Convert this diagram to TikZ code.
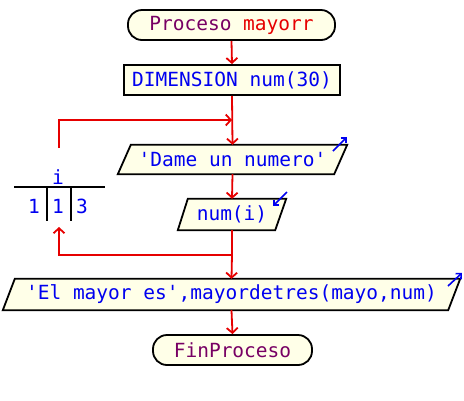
\documentclass[tikz,border=0pt]{standalone}
\usepackage{fontspec}
\setmonofont{DejaVu Sans Mono}
\usetikzlibrary{arrows.meta}
\definecolor{cream}{RGB}{255,255,232}
\definecolor{fblue}{RGB}{0,0,240}
\definecolor{fpurple}{RGB}{120,0,100}
\definecolor{fred}{RGB}{230,0,0}
\pgfdeclarelayer{bg}
\pgfsetlayers{bg,main}
\begin{document}
\begin{tikzpicture}[x=1pt,y=-1pt,
 txt/.style={font=\ttfamily\fontsize{19.5}{20}\selectfont, inner sep=0pt, anchor=center, text=fblue},
 term/.style={txt, draw=black, fill=cream, line width=1.8pt, rounded corners=14pt},
 proc/.style={txt, draw=black, fill=cream, line width=1.8pt},
 io/.style={draw=black, fill=cream, line width=1.8pt},
 flow/.style={draw=fred, line width=1.8pt},
 flowa/.style={flow, -{Straight Barb[length=5pt,width=11pt]}},
 inarr/.style={draw=fblue, line width=1.6pt, -{Straight Barb[length=4pt,width=8pt]}},
 tally/.style={draw=black, line width=1.8pt}
]
\useasboundingbox (0,0) rectangle (464,400);

\node[term, minimum width=207pt, minimum height=30pt] (start) at (231.5,25)
  {{\color{fpurple}Proceso} {\color{fred}mayorr}};
\node[proc, minimum width=216pt, minimum height=30pt] (dim) at (232,80) {DIMENSION num(30)};
\node[txt, minimum width=229pt, minimum height=29pt] (dame) at (232.5,159.5)
  {\textquotesingle Dame un numero\textquotesingle};
\node[txt, minimum width=108pt, minimum height=31pt] (numi) at (232,214.5) {num(i)};
\node[txt, minimum width=457pt, minimum height=31pt] (el) at (231.5,294.5)
  {\textquotesingle El mayor es\textquotesingle,mayordetres(mayo,num)};
\node[term, text=fpurple, minimum width=159pt, minimum height=30pt] (fin) at (232.5,350) {FinProceso};

\begin{pgfonlayer}{bg}
\draw[io] (dame.south west) -- ([xshift=-13pt]dame.south east) -- (dame.north east) -- ([xshift=13pt]dame.north west) -- cycle;
\draw[io] (numi.south west) -- ([xshift=-11pt]numi.south east) -- (numi.north east) -- ([xshift=10pt]numi.north west) -- cycle;
\draw[io] (el.south west) -- ([xshift=-12pt]el.south east) -- (el.north east) -- ([xshift=12pt]el.north west) -- cycle;
\end{pgfonlayer}

% loop counter
\node[txt] (ivar) at (58,177) {i};
\node[txt] (ini) at (34,206) {1};
\node[txt] (step) at (58,206) {1};
\node[txt] (fin3) at (82,206) {3};
\coordinate (tl) at (14,187);
\coordinate (tr) at (105,187);
\coordinate (v1) at (47,187);
\coordinate (v2) at (71,187);
\draw[tally] (tl) -- (tr);
\draw[tally] (v1) -- ++(0,34);
\draw[tally] (v2) -- ++(0,34);

% flow
\coordinate (looptop) at (59,148);
\coordinate (jin) at (232,120);
\coordinate (jout) at (232,255);
\coordinate (loopbot) at (59,227);
\draw[flowa] (start.south) -- (dim.north);
\draw[flowa] (dim.south) -- (dame.north);
\draw[flowa] (looptop) |- (jin);
\draw[flowa] (dame.south) -- (numi.north);
\draw[flow] (numi.south) -- (jout);
\draw[flowa] (jout) -| (loopbot);
\draw[flowa] (jout) -- (el.north);
\draw[flowa] (el.south) -- (fin.north);

% io direction arrows
\draw[inarr] (333,151) -- (347,137);
\draw[inarr] (287,192) -- (273,206);
\draw[inarr] (448,286) -- (462,273);
\end{tikzpicture}
\end{document}
